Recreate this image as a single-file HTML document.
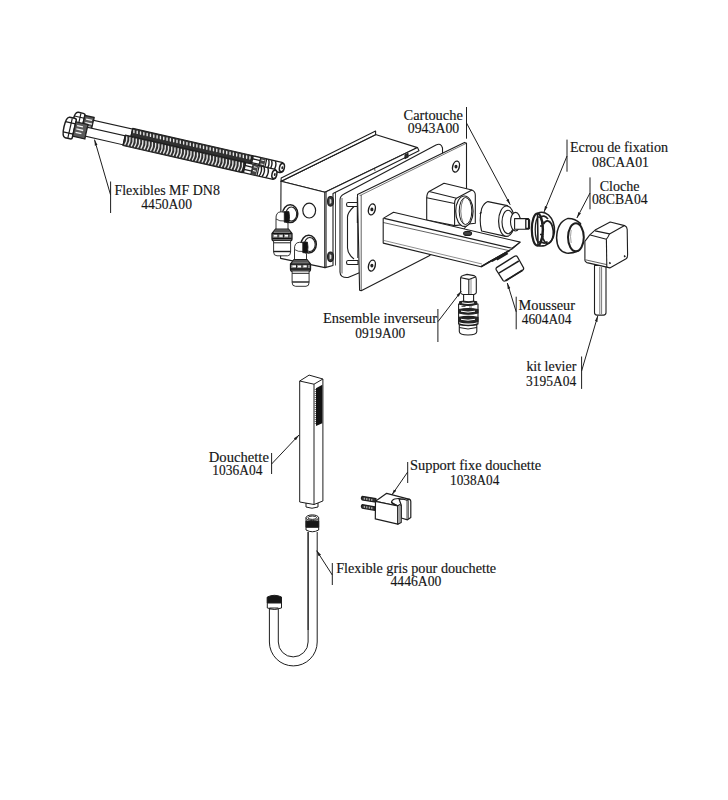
<!DOCTYPE html>
<html><head><meta charset="utf-8"><style>
html,body{margin:0;padding:0;background:#fff;}
svg{display:block;}
text{font-family:"Liberation Serif",serif;font-size:14px;fill:#151515;stroke:#151515;stroke-width:0.15px;}
</style></head><body>
<svg width="728" height="800" viewBox="0 0 728 800">
<rect width="728" height="800" fill="#fff"/>
<g id="hoses" stroke="#1e1e1e" stroke-width="1.1" fill="#fff" stroke-linejoin="round">
<g transform="translate(74,120.5) rotate(12.79)">
<path d="M2.5 -9 H7.5 Q9.5 -9 9.5 -7.5 V7.5 Q9.5 9 7.5 9 H2.5 Q-1 9 -1 0 Q-1 -9 2.5 -9Z" stroke-width="1.5"/>
<path d="M-0.6 -4.5 H9.5 M-0.6 4.5 H9.5" fill="none" stroke-width="1.2"/>
<path d="M5.2 -8.5 V8.5" fill="none" stroke-width="1.2"/>
<path d="M9.5 -7.4 H19 V7.4 H9.5Z" fill="#5a5a5a" stroke-width="1.3"/>
<path d="M11.5 -4 h6 M11.5 -0.5 h7 M11.5 3 h6" stroke="#f4f4f4" stroke-width="1.3" fill="none"/>
<path d="M19 -4.6 H59 V4.6 H19Z"/>
<rect x="59" y="-5.4" width="122.5" height="10.8" fill="#303030"/>
<path d="M60.6 -3.6 l0.5 2.2M64.0 -3.6 l0.5 2.2M67.4 -3.6 l0.5 2.2M70.8 -3.6 l0.5 2.2M74.2 -3.6 l0.5 2.2M77.6 -3.6 l0.5 2.2M81.0 -3.6 l0.5 2.2M84.4 -3.6 l0.5 2.2M87.8 -3.6 l0.5 2.2M91.2 -3.6 l0.5 2.2M94.6 -3.6 l0.5 2.2M98.0 -3.6 l0.5 2.2M101.4 -3.6 l0.5 2.2M104.8 -3.6 l0.5 2.2M108.2 -3.6 l0.5 2.2M111.6 -3.6 l0.5 2.2M115.0 -3.6 l0.5 2.2M118.4 -3.6 l0.5 2.2M121.8 -3.6 l0.5 2.2M125.2 -3.6 l0.5 2.2M128.6 -3.6 l0.5 2.2M132.0 -3.6 l0.5 2.2M135.4 -3.6 l0.5 2.2M138.8 -3.6 l0.5 2.2M142.2 -3.6 l0.5 2.2M145.6 -3.6 l0.5 2.2M149.0 -3.6 l0.5 2.2M152.4 -3.6 l0.5 2.2M155.8 -3.6 l0.5 2.2M159.2 -3.6 l0.5 2.2M162.6 -3.6 l0.5 2.2M166.0 -3.6 l0.5 2.2M169.4 -3.6 l0.5 2.2M172.8 -3.6 l0.5 2.2M176.2 -3.6 l0.5 2.2M179.6 -3.6 l0.5 2.2" fill="none" stroke="#e6e6e6" stroke-width="1.4" stroke-linecap="round"/>
<path d="M181.5 -5.2 H212 Q215 -5.2 215 0 Q215 5.2 212 5.2 H181.5Z" fill="#fff" stroke-width="1.3"/>
<path d="M182.5 -5.2 V5.2 M190.5 -5.2 V5.2" fill="none" stroke-width="1.6"/>
<path d="M182.5 -2.2 H190.5 M182.5 1.8 H190.5" fill="none" stroke-width="1.3"/>
<path d="M190.5 -5.2 h5 v10.4 h-5z" fill="#444" stroke="none"/>
<path d="M191.5 -3 h3 M191.5 1 h3" stroke="#fff" stroke-width="1" fill="none"/>
<path d="M198.5 -5 q2.6 5 0 10 M201.5 -5 q2.6 5 0 10 M205.5 -5 q2.6 5 0 10" fill="none" stroke-width="1.4"/>
<path d="M196.5 -5.2 V5.2" fill="none" stroke-width="1.2"/>
<ellipse cx="213.2" cy="0" rx="2.4" ry="4.2" fill="#fff" stroke-width="1.5"/>
<ellipse cx="213.6" cy="0" rx="0.9" ry="1.6" fill="#222" stroke="none"/>
</g>
<g transform="translate(65,126.9) rotate(12.79)">
<path d="M2.5 -10.5 H7.5 Q9.5 -10.5 9.5 -9.0 V9.0 Q9.5 10.5 7.5 10.5 H2.5 Q-1 10.5 -1 0 Q-1 -10.5 2.5 -10.5Z" stroke-width="1.5"/>
<path d="M-0.6 -5.2 H9.5 M-0.6 5.2 H9.5" fill="none" stroke-width="1.2"/>
<path d="M5.2 -10.0 V10.0" fill="none" stroke-width="1.2"/>
<path d="M9.5 -7.4 H22 V7.4 H9.5Z" fill="#5a5a5a" stroke-width="1.3"/>
<path d="M11.5 -4 h6 M11.5 -0.5 h7 M11.5 3 h6" stroke="#f4f4f4" stroke-width="1.3" fill="none"/>
<path d="M22 -4.6 H60.6 V4.6 H22Z"/>
<rect x="60.6" y="-5.4" width="122.4" height="10.8" fill="#303030"/>
<path d="M62.2 -4.4Q64.0 0 62.2 4.4M65.5 -4.4Q67.3 0 65.5 4.4M68.8 -4.4Q70.6 0 68.8 4.4M72.1 -4.4Q73.9 0 72.1 4.4M75.4 -4.4Q77.2 0 75.4 4.4M78.7 -4.4Q80.5 0 78.7 4.4M82.0 -4.4Q83.8 0 82.0 4.4M85.3 -4.4Q87.1 0 85.3 4.4M88.6 -4.4Q90.4 0 88.6 4.4M91.9 -4.4Q93.7 0 91.9 4.4M95.2 -4.4Q97.0 0 95.2 4.4M98.5 -4.4Q100.3 0 98.5 4.4M101.8 -4.4Q103.6 0 101.8 4.4M105.1 -4.4Q106.9 0 105.1 4.4M108.4 -4.4Q110.2 0 108.4 4.4M111.7 -4.4Q113.5 0 111.7 4.4M115.0 -4.4Q116.8 0 115.0 4.4M118.3 -4.4Q120.1 0 118.3 4.4M121.6 -4.4Q123.4 0 121.6 4.4M124.9 -4.4Q126.7 0 124.9 4.4M128.2 -4.4Q130.0 0 128.2 4.4M131.5 -4.4Q133.3 0 131.5 4.4M134.8 -4.4Q136.6 0 134.8 4.4M138.1 -4.4Q139.9 0 138.1 4.4M141.4 -4.4Q143.2 0 141.4 4.4M144.7 -4.4Q146.5 0 144.7 4.4M148.0 -4.4Q149.8 0 148.0 4.4M151.3 -4.4Q153.1 0 151.3 4.4M154.6 -4.4Q156.4 0 154.6 4.4M157.9 -4.4Q159.7 0 157.9 4.4M161.2 -4.4Q163.0 0 161.2 4.4M164.5 -4.4Q166.3 0 164.5 4.4M167.8 -4.4Q169.6 0 167.8 4.4M171.1 -4.4Q172.9 0 171.1 4.4M174.4 -4.4Q176.2 0 174.4 4.4M177.7 -4.4Q179.5 0 177.7 4.4M181.0 -4.4Q182.8 0 181.0 4.4" fill="none" stroke="#e6e6e6" stroke-width="1.25"/>
<path d="M183 -5.2 H213.5 Q216.5 -5.2 216.5 0 Q216.5 5.2 213.5 5.2 H183Z" fill="#fff" stroke-width="1.3"/>
<path d="M184 -5.2 V5.2 M192 -5.2 V5.2" fill="none" stroke-width="1.6"/>
<path d="M184 -2.2 H192 M184 1.8 H192" fill="none" stroke-width="1.3"/>
<path d="M192 -5.2 h5 v10.4 h-5z" fill="#444" stroke="none"/>
<path d="M193 -3 h3 M193 1 h3" stroke="#fff" stroke-width="1" fill="none"/>
<path d="M200 -5 q2.6 5 0 10 M203 -5 q2.6 5 0 10 M207 -5 q2.6 5 0 10" fill="none" stroke-width="1.4"/>
<path d="M198 -5.2 V5.2" fill="none" stroke-width="1.2"/>
<ellipse cx="214.7" cy="0" rx="2.4" ry="4.2" fill="#fff" stroke-width="1.5"/>
<ellipse cx="215.1" cy="0" rx="0.9" ry="1.6" fill="#222" stroke="none"/>
</g>
</g>
<g id="box" stroke="#1e1e1e" stroke-width="1.1" fill="#fff" stroke-linejoin="round">
 <!-- top face -->
 <path d="M281 181.3 L375.5 134.5 L417.5 147.6 L325 192.3 Z"/>
 <!-- flange -->
 <path d="M281 181.3 L281.2 177.9 L375.6 131.1 L375.6 134.8 Z" />
 <path d="M283.2 180.6 L375.3 134.8" fill="none" stroke-width="0.7"/>
 <!-- front face -->
 <path d="M281 181.3 L325 192.3 L325 267.6 L280.6 258.4 Z"/>
 <!-- frame strip -->
 <path d="M325 192.3 L417.5 147.6 L419 150.7 L333 193.5 L333 265.5 L325 267.6 Z"/>
 <path d="M326.3 191.8 V267.2" fill="none" stroke-width="0.7"/>
 <path d="M374.5 168.2 L375 171" fill="none" stroke-width="0.7"/>
 <!-- hole on front face -->
 <ellipse cx="309.2" cy="210.6" rx="6.4" ry="7.4" stroke-width="1.2"/>
 <!-- screws -->
 <ellipse cx="330.5" cy="201.3" rx="2.9" ry="4.8" fill="#3a3a3a" stroke-width="1.2"/>
 <path d="M329.6 198.5 l1.8 1.2 v3.2 l-1.8 1.2z" fill="#ddd" stroke="none"/>
 <ellipse cx="330.5" cy="256.8" rx="2.9" ry="4.8" fill="#3a3a3a" stroke-width="1.2"/>
 <path d="M329.6 254 l1.8 1.2 v3.2 l-1.8 1.2z" fill="#ddd" stroke="none"/>
 <path d="M405 155 l3 -1.5 v3.5 l-3 1.5z" fill="#333"/>
 <!-- gasket plate -->
 <path d="M340 200 Q340 196 344 194 L436 145 Q441 142.5 442.5 148 L443 200 L443 235 L360 272.5 L348 277.5 Q340 278 340 272 Z"/>
  <path d="M342 198 V273.5" fill="none" stroke-width="0.7"/>
 <path d="M335.5 192 V265.5" fill="none" stroke-width="0.8"/>
 <!-- gasket pins / bracket -->
 <path d="M348 202.5 h10 v4 h-10 a1.5 2 0 0 1 0 -4z"/>
 <path d="M348 260.5 h10 v4 h-10 a1.5 2 0 0 1 0 -4z"/>
 <path d="M354 206.5 Q347 213 347.5 218 V248 Q347.5 254 354 259" fill="none"/>
 <path d="M357.8 197 V223" fill="none" stroke-width="2"/><path d="M357.8 223 V258" fill="none" stroke-width="1"/>
 <!-- front plate -->
 <path d="M357.5 194.5 L464.5 142.4 L466.5 143.2 L466.5 226 L461 232 L428.8 256 L361.2 290.8 L359.6 290.3 Z"/>
 <path d="M359.6 195.5 L361.2 195 L466.5 143.2" fill="none" stroke-width="0.6"/>
 <path d="M361.2 195 V290.8" fill="none" stroke-width="0.7"/>
 <ellipse cx="371.9" cy="209.4" rx="3.3" ry="5.6" stroke-width="1.4" transform="rotate(15 371.9 209.4)"/><ellipse cx="371.9" cy="209.4" rx="1" ry="1.3" fill="#222"/>
 <ellipse cx="371.9" cy="265.6" rx="3.3" ry="5.6" stroke-width="1.4" transform="rotate(15 371.9 265.6)"/><ellipse cx="371.9" cy="265.6" rx="1" ry="1.3" fill="#222"/>
 <ellipse cx="456" cy="166.6" rx="3.3" ry="5.6" stroke-width="1.4" transform="rotate(15 456 166.6)"/><ellipse cx="456" cy="166.6" rx="1" ry="1.3" fill="#222"/>
</g>

<defs>
<g id="fitting" stroke="#1e1e1e" stroke-width="0.9" fill="#fff">
 <ellipse cx="290.2" cy="213.7" rx="7.6" ry="8.9" stroke-width="1.5"/>
 <ellipse cx="291.3" cy="214" rx="5.4" ry="7" stroke-width="1.1"/>
 <path d="M276 230 V219 Q275.6 212 281 211.8 L285 212.3 L285.8 222 L288 223 V230" />
 <path d="M276 219 Q279 221.5 285.5 221" fill="none" stroke-width="0.8"/>
 <path d="M284.3 211.6 h4.6 q1.2 5 0 10.6 h-4.6z" fill="#111"/>
 <path d="M275.5 229.2 H288.5 L292 233.5 V238.5 Q292 240.8 290.5 240.8 H273.6 Q272 240.8 272 238.5 V233.5Z" fill="#8a8a8a" stroke-width="1.3"/>
 <path d="M275.5 229.6 H288.5 L290.5 232 H273.5Z" fill="#555" stroke="none"/>
 <path d="M272.3 233.6 H291.7" fill="none" stroke="#111" stroke-width="1.4"/>
 <path d="M274 235.8 h3.5 M279.5 236 h3 M285 235.8 h3.5" stroke="#fff" stroke-width="1.4"/>
 <path d="M278 234 v3.6 M283.5 234 v3.6 M288.8 234 v3.6" stroke="#222" stroke-width="1"/>
 <path d="M272.3 238.5 H291.7" fill="none" stroke="#111" stroke-width="1.6"/>
 <path d="M273.6 240.5 V252 Q273.6 255.8 277 255.8 H287.5 Q290.6 255.8 290.6 252 V240.5Z"/>
 <path d="M273.6 242.8 H290.6" fill="none" stroke-width="1"/>
 <path d="M273.6 251.5 H290.6" fill="none" stroke-width="1.4"/>
</g>
</defs>
<use href="#fitting"/>
<use href="#fitting" transform="translate(18.5,30.5)"/>

<g id="block" stroke="#1e1e1e" stroke-width="1.1" fill="#fff" stroke-linejoin="round">
 <!-- left face -->
 <path d="M426.7 197.7 Q427 193 429.1 191.5 L444 183.3 L471.9 190 Q475.3 191.5 475.3 195 V223.2 L454.6 225.6 L426.7 220 Z"/>
 <path d="M429.1 191.5 L456.5 198.2 L471.9 190" fill="none"/>
 <path d="M426.7 197.7 L454.6 203.5 V225.6" fill="none"/>
 <path d="M454.6 203.5 Q454.6 199.5 456.5 198.2" fill="none"/>
 <ellipse cx="464.4" cy="211.2" rx="8.7" ry="15.2" stroke-width="1.2"/>
 <ellipse cx="465.5" cy="211" rx="6.3" ry="13.5" stroke-width="1"/>
 <path d="M463.5 198.5 Q458 211 463.5 224" fill="none" stroke-width="0.6"/>
</g>
<g id="cartridge" stroke="#1e1e1e" stroke-width="1.1" fill="#fff" stroke-linejoin="round">
 <path d="M487.9 201.6 L507.5 205.6 L505.7 236.4 L481.6 231 Q478.8 220 481.6 208.8 Q484 203 487.9 201.6Z"/>
 <path d="M480 214 l1.2 -2" fill="none" stroke-width="1.4"/>
 <ellipse cx="506.6" cy="221.2" rx="8" ry="15.2" stroke-width="1.2"/>
 <ellipse cx="508" cy="222" rx="6" ry="11.7"/>
 <ellipse cx="515.5" cy="221.7" rx="5" ry="9.3"/>
 <path d="M514.6 218.6 L528.4 218.6 L529.6 220 V228.3 L528.4 229.3 L514.6 229.3Z"/>
 <path d="M525.8 219.4 H528.6 V228.4 H525.8Z" fill="none" stroke-width="1.3"/>
</g>
<g id="spout" stroke="#1e1e1e" stroke-width="1.1" fill="#fff" stroke-linejoin="round">
 <path d="M393.5 212.2 L520.2 242.1 L512 249 L505.8 252.4 L481 266.8 L383.2 243.1 V218.4 Z"/>
 <path d="M384.2 218.4 L512 248.3 L520.2 242.1" fill="none"/>
 <path d="M383.2 222.5 L509.9 250.8" fill="none" stroke-width="0.7"/>
 <path d="M384 240.5 L482 264" fill="none" stroke-width="0.5"/>
 <path d="M487 263 L506 252.5 M492 261.5 L507 253 M497 260 L508 253.5" fill="none" stroke-width="1.2"/>
 <path d="M481 266.8 L509.9 250.3" fill="none" stroke-width="1.6"/>
 <ellipse cx="467.6" cy="233.4" rx="4" ry="2" fill="#444"/>
</g>
<g id="ecrou" stroke="#1e1e1e" stroke-width="1.2" fill="none">
 <path d="M537.5 213.5 Q543 210.5 548.5 215 Q555 221 554.4 232 Q553.5 242 545 245.5 Q541 246.5 538 245.5Z" stroke-width="1.6" fill="#fff"/>
 <path d="M543.5 224 A5.6 10.6 0 0 1 552.5 227 A5.6 10.6 0 0 1 543 238.5" stroke-width="1.7"/>
 <ellipse cx="537.4" cy="229.6" rx="5.6" ry="16.1" stroke-width="2.2"/>
 <ellipse cx="538.8" cy="229.6" rx="3.6" ry="12.8" stroke-width="1.3"/>
 <path d="M540 217.5 Q544 214 548 219 M540 226 h3.5 M540 234.5 h3.5 M540 241 Q544 245 547.5 241.5" stroke-width="1.7"/>
 <path d="M541.2 221 l2.4 0.6 v3 l-2.4 -0.4z M541.2 236.5 l2.4 -0.4 v3 l-2.4 0.6z" fill="#222" stroke="none"/>
</g>
<g id="cloche" stroke="#1e1e1e" stroke-width="1.3" fill="#fff">
 <path d="M568 218.4 Q575 218.2 580.5 223.6 L578 251 Q572 253.6 566.4 253.1 Q557 251 556.6 238 Q557 222 568 218.4Z" stroke-width="1.5"/>
 <ellipse cx="575.9" cy="237.3" rx="7.9" ry="14" stroke-width="2"/>
 <path d="M571.2 230 Q569.8 236.5 571.2 243" fill="none" stroke="#888" stroke-width="0.8"/>
</g>
<g id="lever" stroke="#1e1e1e" stroke-width="1.1" fill="#fff" stroke-linejoin="round">
 <path d="M594.5 265.5 V312.5 Q594.5 315.1 597 315.1 H603.5 Q606 315.1 606 312.5 V265.5Z"/>
 <path d="M599.8 267 V314 M601.6 267 V314" fill="none" stroke-width="0.6"/>
 <path d="M584.9 241.4 L589.8 234.8 L595.1 230.1 L610.2 222 L624.6 225.6 Q627.2 227 627.2 229.5 L627.6 255 Q627.6 257.8 626.1 258.8 L609.8 267.9 L606.8 267.1 L586.8 262.6 Q584.9 261.5 584.9 260.3 Z"/>
 <path d="M595.1 230.9 L609.5 233.9 L624.6 225.6" fill="none"/>
 <path d="M590.2 235 L606.4 239.2 Q608 237.5 609.5 233.9" fill="none"/>
 <path d="M606.4 239.2 L606.8 267.1" fill="none"/>
 <path d="M585.5 259.8 L606.8 264.6" fill="none" stroke-width="0.7"/>
 <path d="M609.3 262.4 l1.2 1.3 M624.2 255.6 l1 1.3" stroke-width="1.6" fill="none"/>
</g>
<g id="mousseur" stroke="#1e1e1e" stroke-width="1.3" fill="#fff" stroke-linejoin="round">
 <path d="M496.5 267.6 L514.5 256.3 Q516.5 255.3 517.5 257 L523.5 267.8 Q524 269.5 522.5 270.3 L505.5 280.8 Q504 281.6 503 280.3 L496.3 270 Q495.7 268.5 496.5 267.6Z"/>
 <path d="M498.8 273.2 L518.8 261" fill="none" stroke-width="1.5"/>
 <path d="M505.5 280.8 L522.5 270.3" fill="none" stroke-width="1.9"/>
</g>
<g id="inverseur" stroke="#1e1e1e" stroke-width="1.1" fill="#fff" stroke-linejoin="round">
 <path d="M459.3 325 V331.5 Q459.3 335 468 335 Q476.8 335 476.8 331.5 V325Z"/>
 <path d="M458.6 304 Q468 302 478 304 V324 Q468 327.5 458.6 324Z"/>
<path d="M459.6 301.8 Q468.15 299.8 476.7 301.8 V304.2 Q468.15 306.7 459.6 304.2Z" fill="#262626"/><path d="M458.8 309.5 Q468.4 307.5 478 309.5 V313 Q468.4 315.5 458.8 313Z" fill="#262626"/><path d="M458.8 317.4 Q468.4 315.4 478 317.4 V321.6 Q468.4 324.1 458.8 321.6Z" fill="#262626"/>
 <path d="M462 302.8 Q468 304.2 474 302.8" fill="none" stroke="#fff" stroke-width="1.1"/>
 <path d="M461 311.2 Q468 313 475 311.2" fill="none" stroke="#fff" stroke-width="1"/>
 <path d="M461 319.3 Q468 321.1 475 319.3" fill="none" stroke="#fff" stroke-width="1"/>
 <path d="M461.5 306.5 h4 M469 307 h3" stroke="#333" stroke-width="0.8" fill="none"/>
 <path d="M458.6 323.7 Q468 327 478 323.7" fill="none" stroke-width="1.2"/>
 <path d="M459.3 327.5 Q468 330.5 476.8 327.5" fill="none" stroke-width="1"/>
 <path d="M463.6 294.5 V301 Q468.6 302.5 473.6 301 V294.5Z"/>
 <path d="M460.6 278.5 Q460.6 276 463 275.5 L467 274.4 L474 275.6 Q476.3 276.5 476.3 279 V292.5 Q476.3 293.8 474 294.5 H463 Q460.6 294 460.6 292.5Z"/>
 <path d="M461 277.8 L468.8 279.4 L476 276.8 M468.8 279.4 V294.5" fill="none"/>
 <path d="M471 279 V294.5" fill="none" stroke-width="0.5"/>
</g>

<g id="handle" stroke="#1e1e1e" stroke-width="1" fill="#fff" stroke-linejoin="round">
 <path d="M306 503 V507 Q312 509.5 318 507 V503Z"/>
 <path d="M299.7 381 L309.1 375.1 L322.9 379 V501 L314 504.5 L299.7 502 Z"/>
 <path d="M299.7 381 L314 384.2 L322.9 379 M314 384.2 V504.5" fill="none"/>
 <path d="M316 388.3 L322.3 384.7 V423.2 L316 426.1Z" fill="#111" stroke="none"/>
 <path d="M315.2 389 V425" fill="none" stroke="#555" stroke-width="1.2" stroke-dasharray="1 1"/>
</g>
<g id="shosehose" stroke="#1e1e1e" stroke-width="1" fill="#fff" stroke-linejoin="round">
 <!-- U hose outer -->
 <path d="M308.1 532 V642 A14.9 14.9 0 0 1 278.3 642 V609 H269.4 V642 A23.9 23.9 0 0 0 317.2 642 V532" />
 <path d="M308.1 532 V630" fill="none"/>
 <!-- top nut -->
 <path d="M306 517.7 V530 Q312.3 533.5 318.7 530 V517.7Z"/>
 <path d="M306 521 H318.7 V527.3 H306Z" fill="#161616"/>
 <ellipse cx="312.3" cy="517.7" rx="6.3" ry="2.8"/>
 <ellipse cx="312.3" cy="517.7" rx="4.3" ry="1.7"/>
 <!-- left nut -->
 <path d="M267.3 597.5 V608 Q274.4 611 281.5 608 V597.5Z"/>
 <path d="M267.3 597 Q274.4 593.6 281.5 597 V603 H267.3Z" fill="#161616"/>
 <path d="M269.4 608 H278.3" fill="none"/>
</g>
<g id="support" stroke="#1e1e1e" stroke-width="1.2" fill="#fff" stroke-linejoin="round">
 <!-- pins -->
 <path d="M362.2 496.3 L376 498.6 V502.2 L362.2 499.9 Q360.6 498.1 362.2 496.3Z" fill="#333"/>
 <path d="M362.2 504.6 L375 506.8 V510.3 L362.2 508.1 Q360.6 506.3 362.2 504.6Z" fill="#333"/>
 <path d="M364.3 497.7 l0 2 M366.8 498.1 l0 2 M369.3 498.5 l0 2 M371.8 498.9 l0 2 M364.3 505.9 l0 2 M366.8 506.3 l0 2 M369.3 506.7 l0 2 M371.8 507.1 l0 2" stroke="#ddd" stroke-width="0.9"/>
 <!-- back prong -->
 <path d="M399 499 L409.6 499.4 Q410.8 500 410.8 501.5 V517.5 L407.5 519.8 L401.2 518 V505Z"/>
 <path d="M407 500 V519.5 M408.3 500.5 V519" fill="none" stroke-width="0.8"/>
 <!-- top -->
 <path d="M375.5 501.3 L386.7 493.3 L409.6 499.4 L407 500.2 Q400 497.6 394.5 499 Q391.5 500.2 391.5 502.5 L397.8 506 Z"/>
 <path d="M391.5 502.5 Q393.5 504.5 397.8 506" fill="none" stroke-width="1.4"/>
 <!-- front face -->
 <path d="M375.5 501.3 L397.8 506 V524.2 L375.3 518.9Z"/>
 <path d="M397.8 506 L399.5 504.6 Q401.2 504.8 401.2 506 V522.5 L397.8 524.2Z"/>
 <path d="M399.8 506 V522.8" fill="none" stroke-width="0.6"/>
</g>

<g id="labels">
<text x="114.4" y="194.6" textLength="105.5" lengthAdjust="spacingAndGlyphs">Flexibles MF DN8</text>
<text x="141.3" y="209.4" textLength="50.7" lengthAdjust="spacingAndGlyphs">4450A00</text>
<text x="403.6" y="119.6" textLength="59.2" lengthAdjust="spacingAndGlyphs">Cartouche</text>
<text x="407.8" y="132.5" textLength="51.4" lengthAdjust="spacingAndGlyphs">0943A00</text>
<text x="570" y="151.8" textLength="98" lengthAdjust="spacingAndGlyphs">Ecrou de fixation</text>
<text x="592.1" y="167.1" textLength="56.9" lengthAdjust="spacingAndGlyphs">08CAA01</text>
<text x="599.7" y="190.8" textLength="39.8" lengthAdjust="spacingAndGlyphs">Cloche</text>
<text x="592" y="203.8" textLength="55.7" lengthAdjust="spacingAndGlyphs">08CBA04</text>
<text x="323" y="322.7" textLength="114" lengthAdjust="spacingAndGlyphs">Ensemble inverseur</text>
<text x="355.2" y="337.5" textLength="50" lengthAdjust="spacingAndGlyphs">0919A00</text>
<text x="518.6" y="309.8" textLength="56.4" lengthAdjust="spacingAndGlyphs">Mousseur</text>
<text x="521.7" y="324.2" textLength="49.8" lengthAdjust="spacingAndGlyphs">4604A04</text>
<text x="526.4" y="371.4" textLength="49.9" lengthAdjust="spacingAndGlyphs">kit levier</text>
<text x="526.1" y="386.1" textLength="50.2" lengthAdjust="spacingAndGlyphs">3195A04</text>
<text x="208.8" y="462.3" textLength="60.1" lengthAdjust="spacingAndGlyphs">Douchette</text>
<text x="212.3" y="474.6" textLength="50.1" lengthAdjust="spacingAndGlyphs">1036A04</text>
<text x="410" y="469.8" textLength="131.2" lengthAdjust="spacingAndGlyphs">Support fixe douchette</text>
<text x="450" y="484.5" textLength="49.4" lengthAdjust="spacingAndGlyphs">1038A04</text>
<text x="336.2" y="573" textLength="160" lengthAdjust="spacingAndGlyphs">Flexible gris pour douchette</text>
<text x="390.5" y="586" textLength="50.9" lengthAdjust="spacingAndGlyphs">4446A00</text>
</g>
<defs><marker id="ah" viewBox="0 0 6 4" refX="6" refY="2" markerWidth="6" markerHeight="4" markerUnits="userSpaceOnUse" orient="auto"><path d="M0 0.6 L6 2 L0 3.4Z" fill="#1e1e1e"/></marker></defs>
<g id="leaders" stroke="#1e1e1e" stroke-width="1" fill="none">
<path d="M110.6 181.5V213"/><path d="M110.6 195L94.5 139.6" marker-end="url(#ah)"/>
<path d="M466.5 107V138.7"/><path d="M466.5 123L510.2 204.7" marker-end="url(#ah)"/>
<path d="M567 139.6V171.7"/><path d="M567 156L544 212" marker-end="url(#ah)"/>
<path d="M590 177.4V209.3"/><path d="M590 193L576.9 218" marker-end="url(#ah)"/>
<path d="M437.9 309V342"/><path d="M437.9 321.7L461.3 291.2" marker-end="url(#ah)"/>
<path d="M516.2 296.7V329.3"/><path d="M516.2 311.8L507.3 283" marker-end="url(#ah)"/>
<path d="M581.6 356.5V388.9"/><path d="M581.6 371L597.8 315.8" marker-end="url(#ah)"/>
<path d="M271.6 453V474"/><path d="M271.6 464L299 435" marker-end="url(#ah)"/>
<path d="M407.7 462V483"/><path d="M407.7 472L391.8 495" marker-end="url(#ah)"/>
<path d="M332.3 563V585"/><path d="M332.3 575L316.6 550.6" marker-end="url(#ah)"/>
</g>

</svg>
</body></html>
